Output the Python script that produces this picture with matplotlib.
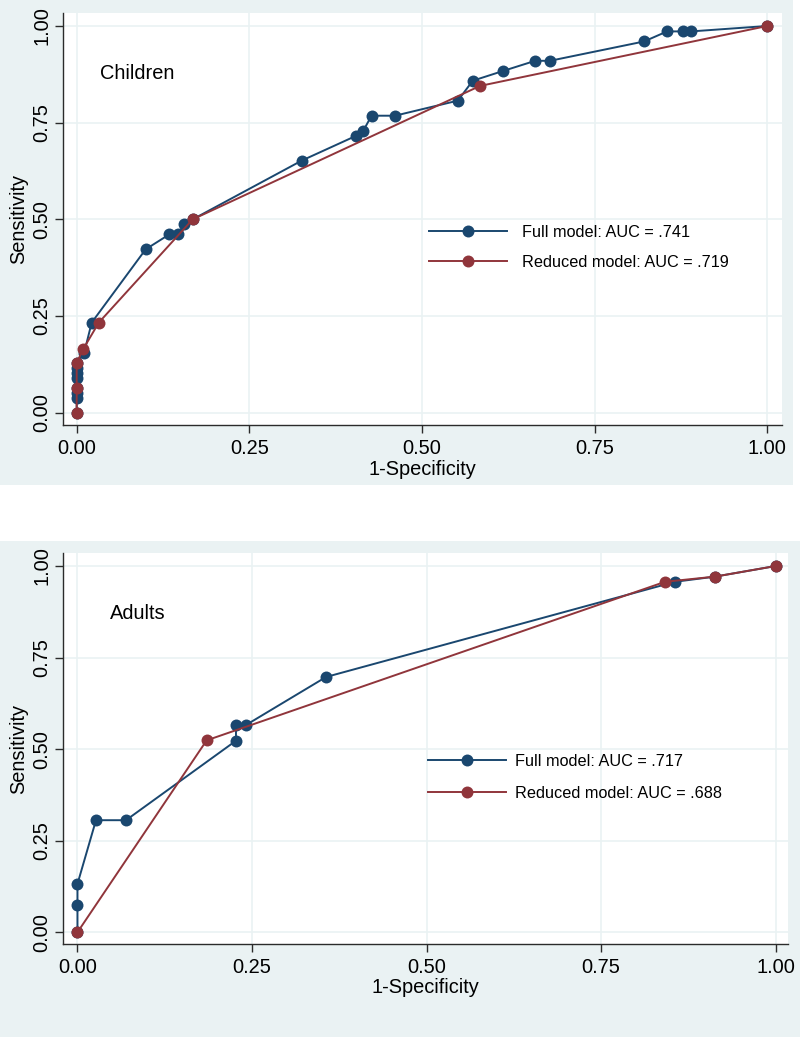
import matplotlib
matplotlib.use("Agg")
import matplotlib.pyplot as plt
from matplotlib.patches import Rectangle

plt.rcParams['font.family'] = ['Liberation Sans', 'DejaVu Sans']

# ---------------- data ----------------
child_full_x = [0, 0, 0, 0, 0, 0, 0, 0, 0.0107, 0.0217, 0.0999, 0.134, 0.146, 0.156, 0.168,
                0.326, 0.4046, 0.415, 0.427, 0.461, 0.552, 0.5736, 0.618, 0.664, 0.6855,
                0.8217, 0.855, 0.8786, 0.890, 1.0]
child_full_y = [0, 0.038, 0.051, 0.064, 0.090, 0.103, 0.115, 0.128, 0.154, 0.233, 0.4225, 0.461,
                0.461, 0.487, 0.500, 0.652, 0.716, 0.729, 0.768, 0.768, 0.807, 0.8585, 0.884,
                0.910, 0.910, 0.960, 0.986, 0.986, 0.986, 1.0]
child_red_x = [0, 0, 0, 0.0096, 0.032, 0.168, 0.584, 1.0]
child_red_y = [0, 0.065, 0.129, 0.165, 0.233, 0.500, 0.845, 1.0]

adult_full_x = [0, 0, 0, 0.0265, 0.0695, 0.227, 0.227, 0.2414, 0.356, 0.856, 0.913, 1.0]
adult_full_y = [0, 0.0737, 0.132, 0.306, 0.306, 0.523, 0.566, 0.566, 0.697, 0.957, 0.971, 1.0]
adult_red_x = [0, 0.185, 0.8417, 0.913, 1.0]
adult_red_y = [0, 0.524, 0.957, 0.971, 1.0]

child_labels = ["Full model: AUC = .741", "Reduced model: AUC = .719"]
adult_labels = ["Full model: AUC = .717", "Reduced model: AUC = .688"]
ticks = [0, 0.25, 0.5, 0.75, 1.0]
tick_labels = ["0.00", "0.25", "0.50", "0.75", "1.00"]

BLUE = "#1a476f"
RED = "#90353b"
BG = "#eaf2f3"

W, H = 800, 1037
fig = plt.figure(figsize=(W / 100, H / 100), dpi=100, facecolor="white")

# panel backgrounds (pixel based)
def px_rect(x0, y0, x1, y1):
    return [x0 / W, 1 - y1 / H, (x1 - x0) / W, (y1 - y0) / H]

for (x0, y0, x1, y1) in [(0, 0, 793, 485), (0, 541, 800, 1037)]:
    r = px_rect(x0, y0, x1, y1)
    fig.add_artist(Rectangle((r[0], r[1]), r[2], r[3], transform=fig.transFigure,
                             facecolor=BG, edgecolor="none", zorder=-5))

ax1 = fig.add_axes(px_rect(63.3, 13, 781.7, 425.3))
ax2 = fig.add_axes(px_rect(63.3, 553.3, 788.3, 944))


def style(ax, xlim, ylim):
    ax.set_facecolor("white")
    ax.set_xlim(*xlim)
    ax.set_ylim(*ylim)
    ax.set_xticks(ticks)
    ax.set_xticklabels(tick_labels)
    ax.set_yticks(ticks)
    ax.set_yticklabels(tick_labels)
    ax.grid(True, color=BG, linewidth=1.2, zorder=0)
    ax.set_axisbelow(True)
    for s in ["top", "right"]:
        ax.spines[s].set_visible(False)
    for s in ["left", "bottom"]:
        ax.spines[s].set_color("#2b2b2b")
        ax.spines[s].set_linewidth(1.0)
    ax.tick_params(axis="both", direction="out", length=6, width=1.0, color="#2b2b2b",
                   labelsize=14.4, pad=4)
    ax.tick_params(axis="y", pad=2.5)
    for lbl in ax.get_yticklabels():
        lbl.set_rotation(90)
        lbl.set_va("center")
        lbl.set_ha("right")
    ax.set_xlabel("1-Specificity", fontsize=14.4, labelpad=1)
    ax.set_ylabel("Sensitivity", fontsize=14.4, labelpad=3)


def draw(ax, fx, fy, rx, ry, labels, anchor, textpad, lspace):
    ax.plot(fx, fy, color=BLUE, linewidth=1.4, marker="o", markersize=8.6,
            markeredgewidth=0, zorder=3, label=labels[0])
    ax.plot(rx, ry, color=RED, linewidth=1.4, marker="o", markersize=8.6,
            markeredgewidth=0, zorder=4, label=labels[1])
    ax.legend(loc="center left", bbox_to_anchor=anchor, frameon=False, fontsize=11.7,
              handlelength=4.8, handletextpad=textpad, labelspacing=lspace,
              borderpad=0, borderaxespad=0)


style(ax1, (-0.0194, 1.021), (-0.0326, 1.0336))
draw(ax1, child_full_x, child_full_y, child_red_x, child_red_y, child_labels,
     (0.509, 0.4317), 0.95, 0.9)
ax1.text(0.0337, 0.876, "Children", fontsize=14.4, ha="left", va="center")

style(ax2, (-0.0203, 1.018), (-0.032, 1.0347))
draw(ax2, adult_full_x, adult_full_y, adult_red_x, adult_red_y, adult_labels,
     (0.5034, 0.4265), 0.55, 1.05)
ax2.text(0.0466, 0.871, "Adults", fontsize=14.4, ha="left", va="center")

fig.savefig("out.png", dpi=100, facecolor="white")
